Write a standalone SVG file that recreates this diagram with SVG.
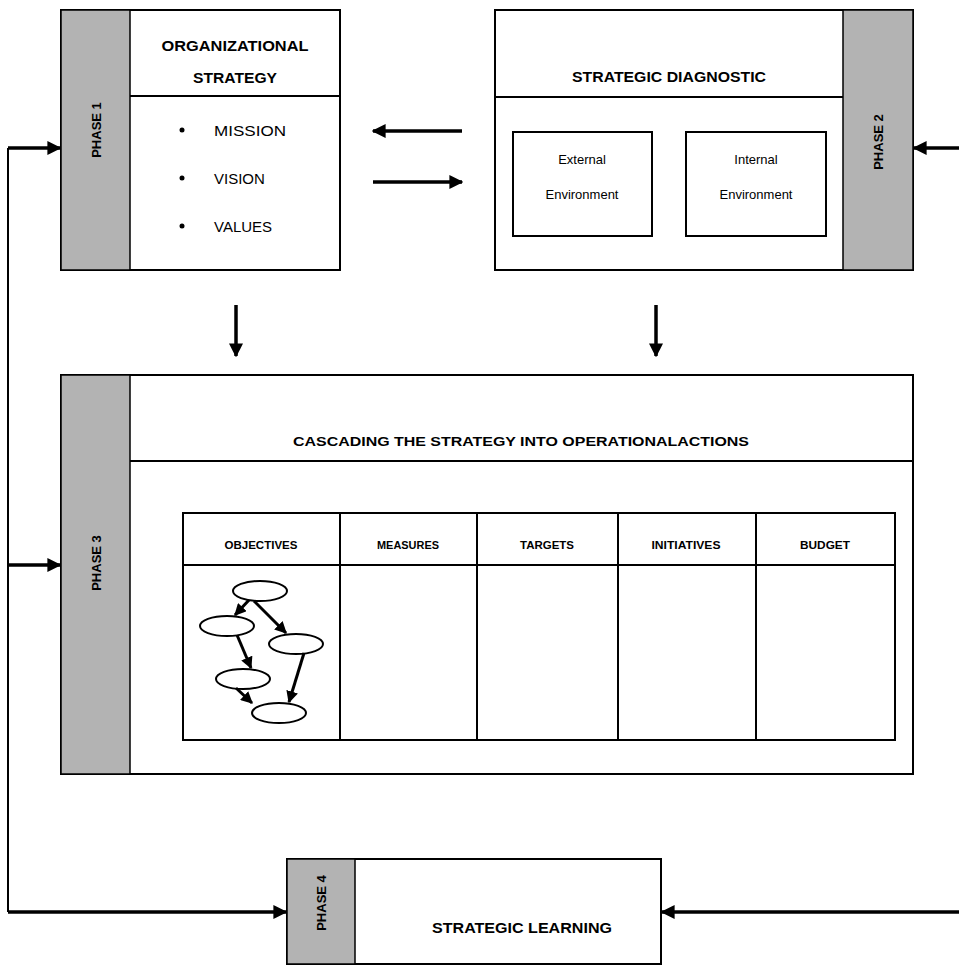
<svg xmlns="http://www.w3.org/2000/svg" width="959" height="966" viewBox="0 0 959 966">
<style>
.box{fill:#fff;stroke:#000;stroke-width:2}
.strip{fill:#b3b3b3;stroke:#000;stroke-width:1.5}
.ln{stroke:#000;stroke-width:2;fill:none}
.t{font-family:"Liberation Sans",Arial,sans-serif;fill:#000}
.b{font-weight:bold}
.ph{font-family:"Liberation Sans",Arial,sans-serif;font-weight:bold;font-size:13px;fill:#000}
.con{stroke:#000;stroke-width:3.5;fill:none}
.thin{stroke:#000;stroke-width:2;fill:none}
.ell{fill:#fff;stroke:#000;stroke-width:2}
.sa{stroke:#000;stroke-width:3;fill:none}
</style>
<defs>
<marker id="ah" viewBox="0 0 10 10" refX="9" refY="5" markerWidth="4" markerHeight="4" orient="auto" markerUnits="strokeWidth">
<path d="M0,0 L10,5 L0,10 z" fill="#000"/>
</marker>
<marker id="ahs" viewBox="0 0 10 10" refX="9" refY="5" markerWidth="4" markerHeight="4" orient="auto" markerUnits="strokeWidth">
<path d="M0,0 L10,5 L0,10 z" fill="#000"/>
</marker>
</defs>

<g id="phase1">
<rect class="box" x="61" y="10" width="279" height="260"/>
<rect class="strip" x="61" y="10" width="69" height="260"/>
<line class="ln" x1="130" y1="96" x2="340" y2="96"/>
<text class="ph" transform="translate(101,130) rotate(-90)" text-anchor="middle">PHASE 1</text>
<text class="t b" x="235" y="51" font-size="14.5" text-anchor="middle" textLength="147" lengthAdjust="spacingAndGlyphs">ORGANIZATIONAL</text>
<text class="t b" x="235" y="83" font-size="14.5" text-anchor="middle" textLength="84" lengthAdjust="spacingAndGlyphs">STRATEGY</text>
<circle cx="182" cy="130" r="2.5" fill="#000"/>
<circle cx="182" cy="178" r="2.5" fill="#000"/>
<circle cx="182" cy="226" r="2.5" fill="#000"/>
<text class="t" x="214" y="136" font-size="15" textLength="72" lengthAdjust="spacingAndGlyphs">MISSION</text>
<text class="t" x="214" y="184" font-size="15">VISION</text>
<text class="t" x="214" y="232" font-size="15">VALUES</text>
</g>

<g id="phase2">
<rect class="box" x="495" y="10" width="418" height="260"/>
<rect class="strip" x="843" y="10" width="70" height="260"/>
<line class="ln" x1="495" y1="97" x2="843" y2="97"/>
<text class="ph" transform="translate(883,142) rotate(-90)" text-anchor="middle">PHASE 2</text>
<text class="t b" x="669" y="82" font-size="14" text-anchor="middle" textLength="194" lengthAdjust="spacingAndGlyphs">STRATEGIC DIAGNOSTIC</text>
<rect class="box" x="513" y="132" width="139" height="104"/>
<rect class="box" x="686" y="132" width="140" height="104"/>
<text class="t" x="582" y="164" font-size="13" text-anchor="middle">External</text>
<text class="t" x="582" y="199" font-size="13" text-anchor="middle">Environment</text>
<text class="t" x="756" y="164" font-size="13" text-anchor="middle">Internal</text>
<text class="t" x="756" y="199" font-size="13" text-anchor="middle">Environment</text>
</g>

<g id="phase3">
<rect class="box" x="61" y="375" width="852" height="399"/>
<rect class="strip" x="61" y="375" width="69" height="399"/>
<line class="ln" x1="130" y1="461" x2="913" y2="461"/>
<text class="ph" transform="translate(101,563) rotate(-90)" text-anchor="middle">PHASE 3</text>
<text class="t b" x="521" y="446" font-size="13.5" text-anchor="middle" textLength="456" lengthAdjust="spacingAndGlyphs">CASCADING THE STRATEGY INTO OPERATIONALACTIONS</text>
<rect class="box" x="183" y="513" width="712" height="227"/>
<line class="ln" x1="183" y1="565" x2="895" y2="565"/>
<line class="ln" x1="340" y1="513" x2="340" y2="740"/>
<line class="ln" x1="477" y1="513" x2="477" y2="740"/>
<line class="ln" x1="618" y1="513" x2="618" y2="740"/>
<line class="ln" x1="756" y1="513" x2="756" y2="740"/>
<text class="t b" x="261" y="549" font-size="10" text-anchor="middle" textLength="73" lengthAdjust="spacingAndGlyphs">OBJECTIVES</text>
<text class="t b" x="408" y="549" font-size="10" text-anchor="middle" textLength="62" lengthAdjust="spacingAndGlyphs">MEASURES</text>
<text class="t b" x="547" y="549" font-size="10" text-anchor="middle" textLength="54" lengthAdjust="spacingAndGlyphs">TARGETS</text>
<text class="t b" x="686" y="549" font-size="10" text-anchor="middle" textLength="69" lengthAdjust="spacingAndGlyphs">INITIATIVES</text>
<text class="t b" x="825" y="549" font-size="10" text-anchor="middle" textLength="50" lengthAdjust="spacingAndGlyphs">BUDGET</text>
<g id="objectives-map">
<ellipse class="ell" cx="260" cy="591" rx="27" ry="10"/>
<ellipse class="ell" cx="227" cy="626" rx="27" ry="10"/>
<ellipse class="ell" cx="296" cy="644" rx="27" ry="10"/>
<ellipse class="ell" cx="243" cy="679" rx="27" ry="10"/>
<ellipse class="ell" cx="279" cy="713" rx="27" ry="10"/>
<line class="sa" x1="249" y1="600" x2="235" y2="615" marker-end="url(#ahs)"/>
<line class="sa" x1="254" y1="601" x2="286" y2="633" marker-end="url(#ahs)"/>
<line class="sa" x1="237" y1="635" x2="251" y2="668" marker-end="url(#ahs)"/>
<line class="sa" x1="236" y1="688" x2="252" y2="703" marker-end="url(#ahs)"/>
<line class="sa" x1="304" y1="653" x2="289" y2="702" marker-end="url(#ahs)"/>
</g>
</g>

<g id="phase4">
<rect class="box" x="287" y="859" width="374" height="105"/>
<rect class="strip" x="287" y="859" width="68" height="105"/>
<text class="ph" transform="translate(326,903) rotate(-90)" text-anchor="middle">PHASE 4</text>
<text class="t b" x="522" y="933" font-size="14" text-anchor="middle" textLength="180" lengthAdjust="spacingAndGlyphs">STRATEGIC LEARNING</text>
</g>

<g id="connectors">
<line class="con" x1="462" y1="131" x2="373" y2="131" marker-end="url(#ah)"/>
<line class="con" x1="373" y1="182" x2="462" y2="182" marker-end="url(#ah)"/>
<line class="con" x1="959" y1="148" x2="914" y2="148" marker-end="url(#ah)"/>
<line class="con" x1="236" y1="305" x2="236" y2="356" marker-end="url(#ah)"/>
<line class="con" x1="656" y1="305" x2="656" y2="356" marker-end="url(#ah)"/>
<polyline class="thin" points="8,148 8,912"/>
<line class="con" x1="8" y1="148" x2="60" y2="148" marker-end="url(#ah)"/>
<line class="con" x1="8" y1="565" x2="60" y2="565" marker-end="url(#ah)"/>
<line class="con" x1="8" y1="912" x2="286" y2="912" marker-end="url(#ah)"/>
<line class="con" x1="959" y1="912" x2="662" y2="912" marker-end="url(#ah)"/>
</g>
</svg>
